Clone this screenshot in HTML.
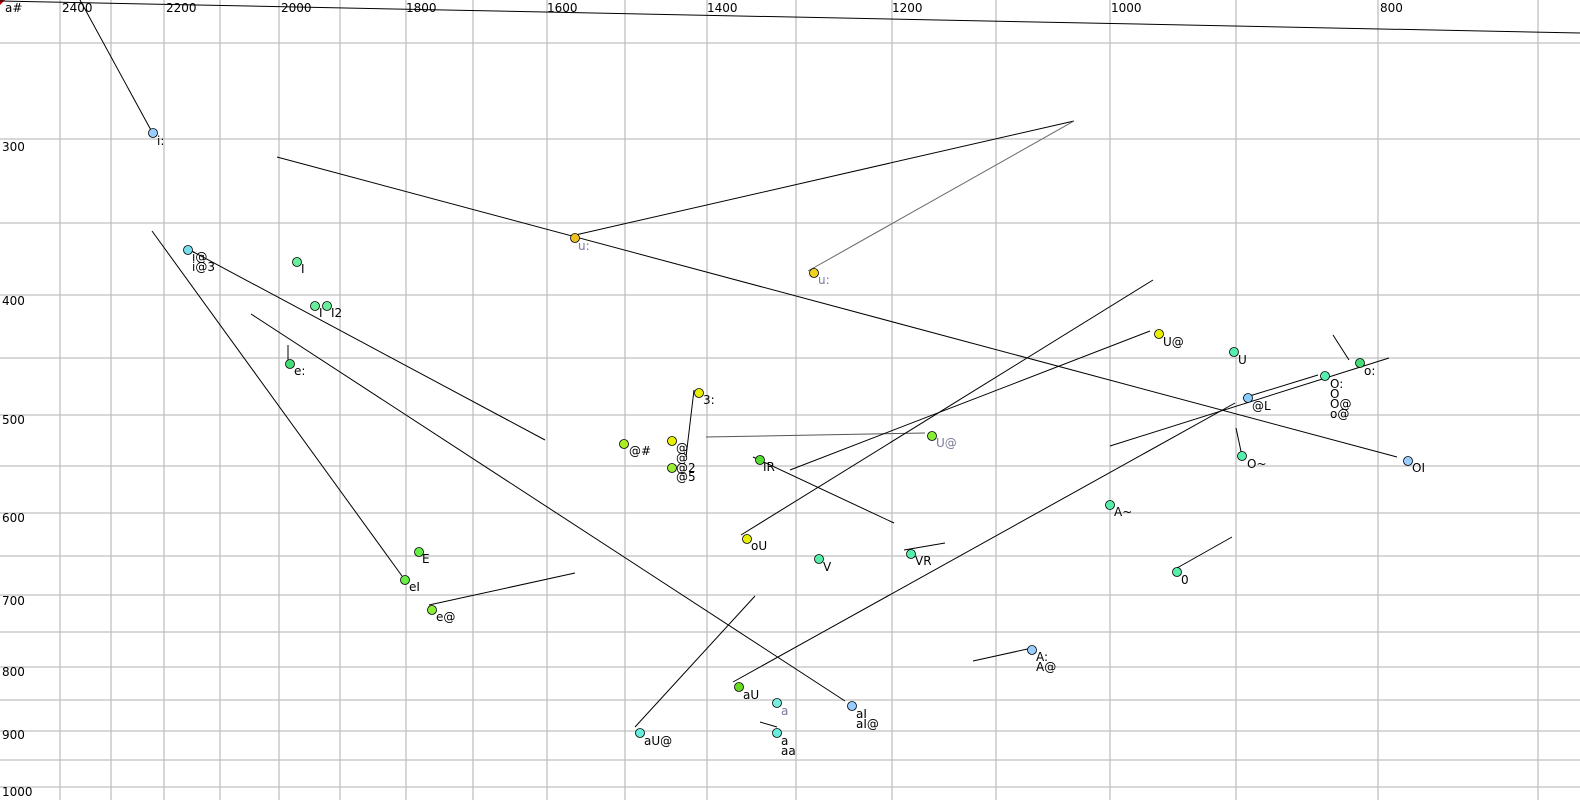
<!DOCTYPE html>
<html><head><meta charset="utf-8"><style>
html,body{margin:0;padding:0;background:#fff;width:1580px;height:800px;overflow:hidden}
svg{display:block}
text{font-family:"DejaVu Sans","Liberation Sans",sans-serif;font-size:12px;fill:#000}
.g line{stroke:#c0c0c0;stroke-width:1.3}
.l line,.l polyline{stroke:#000;stroke-width:1;fill:none}
circle{stroke:#000;stroke-width:0.8;r:4.5}
.gl{fill:#7a7a9a}
</style></head><body>
<svg width="1580" height="800" viewBox="0 0 1580 800" xmlns="http://www.w3.org/2000/svg">
<g class="g">
<line x1="60" y1="0" x2="60" y2="800"/><line x1="111" y1="0" x2="111" y2="800"/><line x1="164" y1="0" x2="164" y2="800"/><line x1="220" y1="0" x2="220" y2="800"/><line x1="279" y1="0" x2="279" y2="800"/><line x1="340" y1="0" x2="340" y2="800"/><line x1="406" y1="0" x2="406" y2="800"/><line x1="473" y1="0" x2="473" y2="800"/><line x1="547" y1="0" x2="547" y2="800"/><line x1="625" y1="0" x2="625" y2="800"/><line x1="707" y1="0" x2="707" y2="800"/><line x1="796" y1="0" x2="796" y2="800"/><line x1="892" y1="0" x2="892" y2="800"/><line x1="996" y1="0" x2="996" y2="800"/><line x1="1110" y1="0" x2="1110" y2="800"/><line x1="1236" y1="0" x2="1236" y2="800"/><line x1="1378" y1="0" x2="1378" y2="800"/><line x1="1538" y1="0" x2="1538" y2="800"/>
<line x1="0" y1="43" x2="1580" y2="43"/><line x1="0" y1="139" x2="1580" y2="139"/><line x1="0" y1="223" x2="1580" y2="223"/><line x1="0" y1="295" x2="1580" y2="295"/><line x1="0" y1="358" x2="1580" y2="358"/><line x1="0" y1="415" x2="1580" y2="415"/><line x1="0" y1="466" x2="1580" y2="466"/><line x1="0" y1="513" x2="1580" y2="513"/><line x1="0" y1="556" x2="1580" y2="556"/><line x1="0" y1="595" x2="1580" y2="595"/><line x1="0" y1="632" x2="1580" y2="632"/><line x1="0" y1="667" x2="1580" y2="667"/><line x1="0" y1="700" x2="1580" y2="700"/><line x1="0" y1="731" x2="1580" y2="731"/><line x1="0" y1="760" x2="1580" y2="760"/><line x1="0" y1="787" x2="1580" y2="787"/>
</g>
<text x="62" y="12">2400</text><text x="166" y="12">2200</text><text x="281" y="12">2000</text><text x="406" y="12">1800</text><text x="547" y="12">1600</text><text x="707" y="12">1400</text><text x="892" y="12">1200</text><text x="1111" y="12">1000</text><text x="1380" y="12">800</text>
<text x="2" y="151">300</text><text x="2" y="305">400</text><text x="2" y="424">500</text><text x="2" y="522">600</text><text x="2" y="605">700</text><text x="2" y="676">800</text><text x="2" y="739">900</text><text x="2" y="796">1000</text>
<text x="5" y="12">a#</text>
<path d="M0 0 L5 0 L0 5 Z" fill="#c00000"/>
<g class="l">
<line x1="0" y1="1" x2="1580" y2="33"/>
<line x1="80" y1="0" x2="152" y2="132"/>
<line x1="186" y1="248" x2="545" y2="440"/>
<line x1="288" y1="345" x2="288" y2="362"/>
<line x1="152" y1="231" x2="402" y2="576"/>
<line x1="251" y1="314" x2="845" y2="701"/>
<line x1="277" y1="157" x2="1397" y2="457"/>
<line x1="571" y1="236" x2="1074" y2="121"/>
<line x1="808" y1="271" x2="1074" y2="121" style="stroke:#666"/>
<line x1="694" y1="390" x2="686" y2="457"/>
<line x1="706" y1="437" x2="925" y2="433" style="stroke:#555"/>
<line x1="753" y1="457" x2="894" y2="523"/>
<line x1="741" y1="535" x2="1153" y2="280"/>
<line x1="790" y1="470" x2="1150" y2="331"/>
<line x1="904" y1="550" x2="945" y2="543"/>
<line x1="1110" y1="446" x2="1389" y2="358"/>
<line x1="733" y1="682" x2="1235" y2="403"/>
<line x1="1243" y1="398" x2="1318" y2="375"/>
<line x1="1333" y1="335" x2="1349" y2="360"/>
<line x1="1236" y1="428" x2="1242" y2="456"/>
<line x1="1177" y1="568" x2="1232" y2="537"/>
<line x1="973" y1="661" x2="1032" y2="648"/>
<line x1="635" y1="727" x2="755" y2="596"/>
<line x1="760" y1="722" x2="777" y2="727"/>
<line x1="429" y1="605" x2="575" y2="573"/>
</g>
<circle cx="153" cy="133" fill="#99ccff"/><text x="157" y="145">i:</text>
<circle cx="188" cy="250" fill="#77ddee"/><text x="192" y="261">i@</text><text x="192" y="271">i@3</text>
<circle cx="297" cy="262" fill="#66ee99"/><text x="301" y="273">I</text>
<circle cx="315" cy="306" fill="#66ee99"/><text x="319" y="317">I</text>
<circle cx="327" cy="306" fill="#66ee99"/><text x="331" y="317">I2</text>
<circle cx="290" cy="364" fill="#44dd77"/><text x="294" y="375">e:</text>
<circle cx="419" cy="552" fill="#66ee44"/><text x="422" y="563">E</text>
<circle cx="405" cy="580" fill="#66ee44"/><text x="409" y="591">eI</text>
<circle cx="432" cy="610" fill="#88ee33"/><text x="436" y="621">e@</text>
<circle cx="575" cy="238" fill="#f0c020"/><text x="578" y="250" class="gl">u:</text>
<circle cx="814" cy="273" fill="#f0d020"/><text x="818" y="284" class="gl">u:</text>
<circle cx="699" cy="393" fill="#e8f000"/><text x="703" y="404">3:</text>
<circle cx="624" cy="444" fill="#aaee22"/><text x="629" y="455">@#</text>
<circle cx="672" cy="441" fill="#e8f000"/><text x="676" y="452">@</text><text x="676" y="462">@</text><text x="676" y="472">@2</text><text x="676" y="481">@5</text>
<circle cx="672" cy="468" fill="#99ee33"/>
<circle cx="932" cy="436" fill="#88ee33"/><text x="936" y="447" class="gl">U@</text>
<circle cx="760" cy="460" fill="#55dd33"/><text x="763" y="471">IR</text>
<circle cx="747" cy="539" fill="#e8f000"/><text x="751" y="550">oU</text>
<circle cx="819" cy="559" fill="#55eeaa"/><text x="823" y="571">V</text>
<circle cx="911" cy="554" fill="#55eeaa"/><text x="915" y="565">VR</text>
<circle cx="1159" cy="334" fill="#e8f000"/><text x="1163" y="346">U@</text>
<circle cx="1234" cy="352" fill="#55eeaa"/><text x="1238" y="364">U</text>
<circle cx="1248" cy="398" fill="#88ccff"/><text x="1252" y="410">@L</text>
<circle cx="1325" cy="376" fill="#55eeaa"/><text x="1330" y="388">O:</text><text x="1330" y="398">O</text><text x="1330" y="408">O@</text><text x="1330" y="418">o@</text>
<circle cx="1360" cy="363" fill="#44dd77"/><text x="1364" y="375">o:</text>
<circle cx="1242" cy="456" fill="#55eeaa"/><text x="1247" y="468">O~</text>
<circle cx="1408" cy="461" fill="#99ccff"/><text x="1412" y="472">OI</text>
<circle cx="1110" cy="505" fill="#55eeaa"/><text x="1114" y="516">A~</text>
<circle cx="1177" cy="572" fill="#55eeaa"/><text x="1181" y="584">0</text>
<circle cx="1032" cy="650" fill="#99ccff"/><text x="1036" y="661">A:</text><text x="1036" y="671">A@</text>
<circle cx="739" cy="687" fill="#66dd22"/><text x="743" y="699">aU</text>
<circle cx="777" cy="703" fill="#77eedd"/><text x="781" y="715" class="gl">a</text>
<circle cx="852" cy="706" fill="#99ccff"/><text x="856" y="718">aI</text><text x="856" y="728">aI@</text>
<circle cx="640" cy="733" fill="#66eedd"/><text x="644" y="745">aU@</text>
<circle cx="777" cy="733" fill="#66eedd"/><text x="781" y="745">a</text><text x="781" y="755">aa</text>
</svg>
</body></html>
